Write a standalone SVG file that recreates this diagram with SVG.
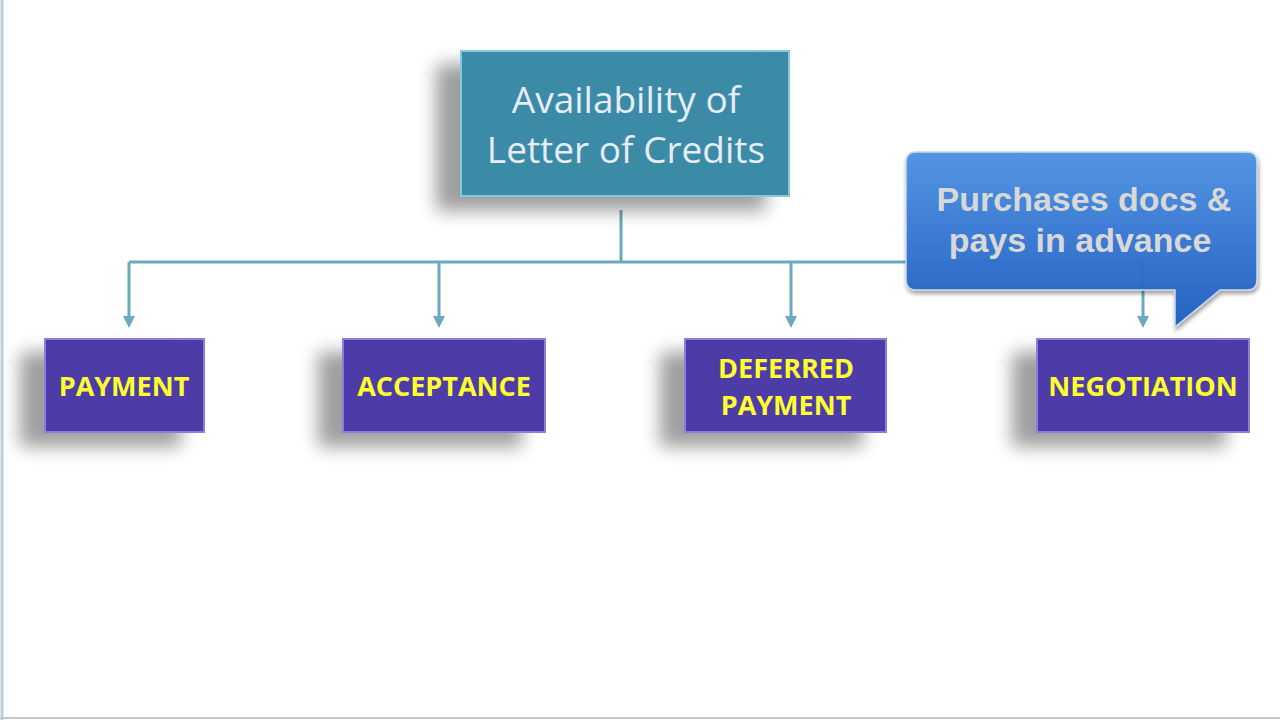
<svg xmlns="http://www.w3.org/2000/svg" width="1280" height="720" viewBox="0 0 1280 720">
  <defs>
    <style>
      .conn { stroke: #6BA9BE; stroke-width: 3; fill: none; }
      .box { fill: #4E3BA8; stroke: #8A7EDC; stroke-width: 2; }
      .lbl { font-family: "Open Sans", "Liberation Sans", sans-serif; font-weight: bold; font-size: 27px; fill: #FFFF2E; text-anchor: middle; }
      .title { font-family: "Open Sans", "Liberation Sans", sans-serif; font-size: 37px; fill: #E6ECF8; text-anchor: middle; }
      .call { font-family: "Liberation Sans", Arial, sans-serif; font-weight: bold; font-size: 34px; fill: #D8D8D8; text-anchor: middle; }
    </style>
    <filter id="shadow" x="-30%" y="-30%" width="160%" height="170%">
      <feGaussianBlur in="SourceAlpha" stdDeviation="9"/>
      <feOffset dx="-24" dy="14" result="b"/>
      <feComponentTransfer><feFuncA type="linear" slope="0.38"/></feComponentTransfer>
      <feMerge><feMergeNode/><feMergeNode in="SourceGraphic"/></feMerge>
    </filter>
    <filter id="cshadow" x="-10%" y="-10%" width="120%" height="130%">
      <feGaussianBlur in="SourceAlpha" stdDeviation="2"/>
      <feOffset dx="1" dy="3"/>
      <feComponentTransfer><feFuncA type="linear" slope="0.4"/></feComponentTransfer>
      <feMerge><feMergeNode/><feMergeNode in="SourceGraphic"/></feMerge>
    </filter>
    <linearGradient id="cg" x1="0" y1="0" x2="0" y2="1">
      <stop offset="0" stop-color="#4F93E2"/>
      <stop offset="0.5" stop-color="#3577D4"/>
      <stop offset="1" stop-color="#1F5EC0"/>
    </linearGradient>
    <marker id="arr" viewBox="0 0 10 10" refX="5" refY="5" markerWidth="4" markerHeight="4" orient="auto">
      <path d="M0,0 L10,5 L0,10 z" fill="#6BA9BE"/>
    </marker>
  </defs>

  <rect x="0" y="0" width="1280" height="720" fill="#FFFFFF"/>
  <line x1="2" y1="0" x2="2" y2="720" stroke="#BCCFDB" stroke-width="3"/>
  <line x1="0" y1="718" x2="1280" y2="718" stroke="#C8C8C8" stroke-width="2"/>

  <g id="connectors">
    <line class="conn" x1="621" y1="210" x2="621" y2="262"/>
    <line class="conn" x1="129" y1="262" x2="1143" y2="262"/>
    <line class="conn" x1="129" y1="262" x2="129" y2="322" marker-end="url(#arr)"/>
    <line class="conn" x1="439" y1="262" x2="439" y2="322" marker-end="url(#arr)"/>
    <line class="conn" x1="791" y1="262" x2="791" y2="322" marker-end="url(#arr)"/>
    <line class="conn" x1="1143" y1="262" x2="1143" y2="322" marker-end="url(#arr)"/>
  </g>

  <g id="root">
    <rect x="461" y="51" width="328" height="145" fill="#3A8BA7" stroke="#86C8DC" stroke-width="2" filter="url(#shadow)"/>
    <text class="title" x="626" y="113">Availability of</text>
    <text class="title" x="626" y="163">Letter of Credits</text>
  </g>

  <g id="payment">
    <rect class="box" x="45" y="339" width="159" height="93" filter="url(#shadow)"/>
    <text class="lbl" x="124" y="396">PAYMENT</text>
  </g>
  <g id="acceptance">
    <rect class="box" x="343" y="339" width="202" height="93" filter="url(#shadow)"/>
    <text class="lbl" x="444" y="396">ACCEPTANCE</text>
  </g>
  <g id="deferred">
    <rect class="box" x="685" y="339" width="201" height="93" filter="url(#shadow)"/>
    <text class="lbl" x="786" y="378">DEFERRED</text>
    <text class="lbl" x="786" y="415">PAYMENT</text>
  </g>
  <g id="negotiation">
    <rect class="box" x="1037" y="339" width="212" height="93" filter="url(#shadow)"/>
    <text class="lbl" x="1143" y="396">NEGOTIATION</text>
  </g>

  <g id="callout">
    <path d="M916,152 H1247 Q1257,152 1257,162 V280 Q1257,290 1247,290 H1220 L1175,327 L1175,290 H916 Q906,290 906,280 V162 Q906,152 916,152 Z" fill="url(#cg)" fill-opacity="0.95" stroke="#C9D8EA" stroke-width="1.5" filter="url(#cshadow)"/>
    <text class="call" x="1084" y="211">Purchases docs &amp;</text>
    <text class="call" x="1080" y="252">pays in advance</text>
  </g>
</svg>
